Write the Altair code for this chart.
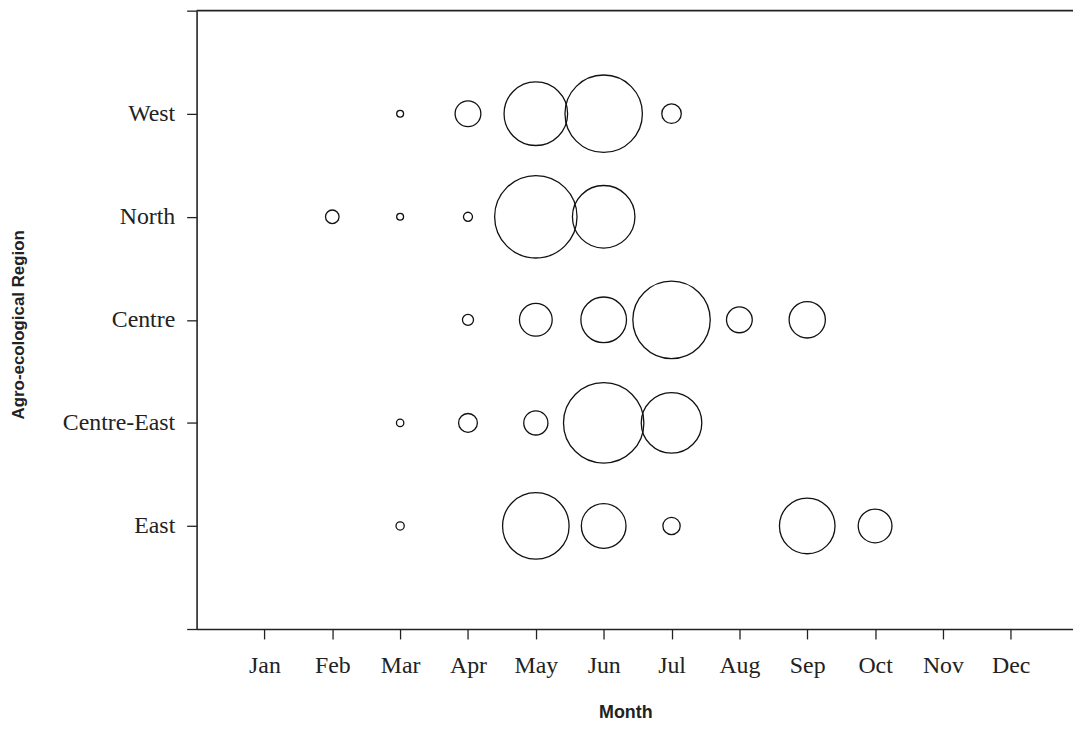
import altair as alt
import pandas as pd

months = ["Jan", "Feb", "Mar", "Apr", "May", "Jun", "Jul", "Aug", "Sep", "Oct", "Nov", "Dec"]
regions = ["East", "Centre-East", "Centre", "North", "West"]

# month index (1 = Jan) and relative value (bubble area) per region
west_months = [3, 4, 5, 6, 7]
west_values = [0.7, 9.8, 59.5, 88.3, 5.6]
north_months = [2, 3, 4, 5, 6]
north_values = [2.7, 0.7, 1.2, 100.0, 57.6]
centre_months = [4, 5, 6, 7, 8, 9]
centre_values = [1.8, 15.8, 30.7, 88.3, 9.8, 19.4]
centre_east_months = [3, 4, 5, 6, 7]
centre_east_values = [0.8, 5.2, 8.6, 95.2, 54.0]
east_months = [3, 5, 6, 7, 9, 10]
east_values = [1.0, 65.2, 29.4, 4.4, 45.5, 16.8]

rows = []
for name, ms, vs in [
    ("West", west_months, west_values),
    ("North", north_months, north_values),
    ("Centre", centre_months, centre_values),
    ("Centre-East", centre_east_months, centre_east_values),
    ("East", east_months, east_values),
]:
    for m, v in zip(ms, vs):
        rows.append({"region": name, "ry": regions.index(name) + 1, "month": m, "value": v})
df = pd.DataFrame(rows)

ink = "#222222"
month_expr = "['','" + "','".join(months) + "',''][datum.value]"
region_expr = "['','" + "','".join(regions) + "',''][datum.value]"

x_axis = alt.Axis(
    values=list(range(1, 13)), labelExpr=month_expr, grid=False,
    tickSize=10, tickWidth=1.3, tickColor=ink, domainColor=ink, domainWidth=1.6,
    labelFont="Liberation Serif", labelFontSize=24, labelColor=ink, labelPadding=15,
    labelOverlap=False,
    title="Month", titleFont="Liberation Sans", titleFontSize=18, titleFontWeight="bold",
    titleColor=ink, titleX=432, titleY=89, titleBaseline="alphabetic", titleAlign="center",
)
y_axis = alt.Axis(
    values=list(range(0, 7)), labelExpr=region_expr, grid=False,
    tickSize=10, tickWidth=1.3, tickColor=ink, domainColor=ink, domainWidth=1.6,
    labelFont="Liberation Serif", labelFontSize=24, labelColor=ink, labelPadding=12,
    labelOverlap=False,
    title="Agro-ecological Region", titleFont="Liberation Sans", titleFontSize=17,
    titleFontWeight="bold", titleColor=ink, titleX=-174, titleY=316, titleAngle=270,
    titleBaseline="alphabetic", titleAlign="center",
)

xs = alt.Scale(domain=[0, 12.917], nice=False, zero=False)
ys = alt.Scale(domain=[0, 6], nice=False, zero=False)

bubbles = alt.Chart(df).mark_point(
    shape="circle", filled=False, stroke="#111111", strokeWidth=1.3, opacity=1
).encode(
    x=alt.X("month:Q", scale=xs, axis=x_axis),
    y=alt.Y("ry:Q", scale=ys, axis=y_axis),
    size=alt.Size("value:Q", scale=alt.Scale(domain=[0, 100], range=[0, 6889], zero=True), legend=None),
)

top_line = alt.Chart(pd.DataFrame({"v": [6]})).mark_rule(color=ink, strokeWidth=1.8).encode(
    y=alt.Y("v:Q", scale=ys)
)

chart = alt.layer(top_line, bubbles).properties(
    width=883, height=623,
    autosize=alt.AutoSizeParams(type="none"),
    padding={"left": 190, "top": 0, "right": 0, "bottom": 91},
).configure_view(stroke=None)

chart.save("out.html", embed_options={"renderer": "svg", "actions": False})
